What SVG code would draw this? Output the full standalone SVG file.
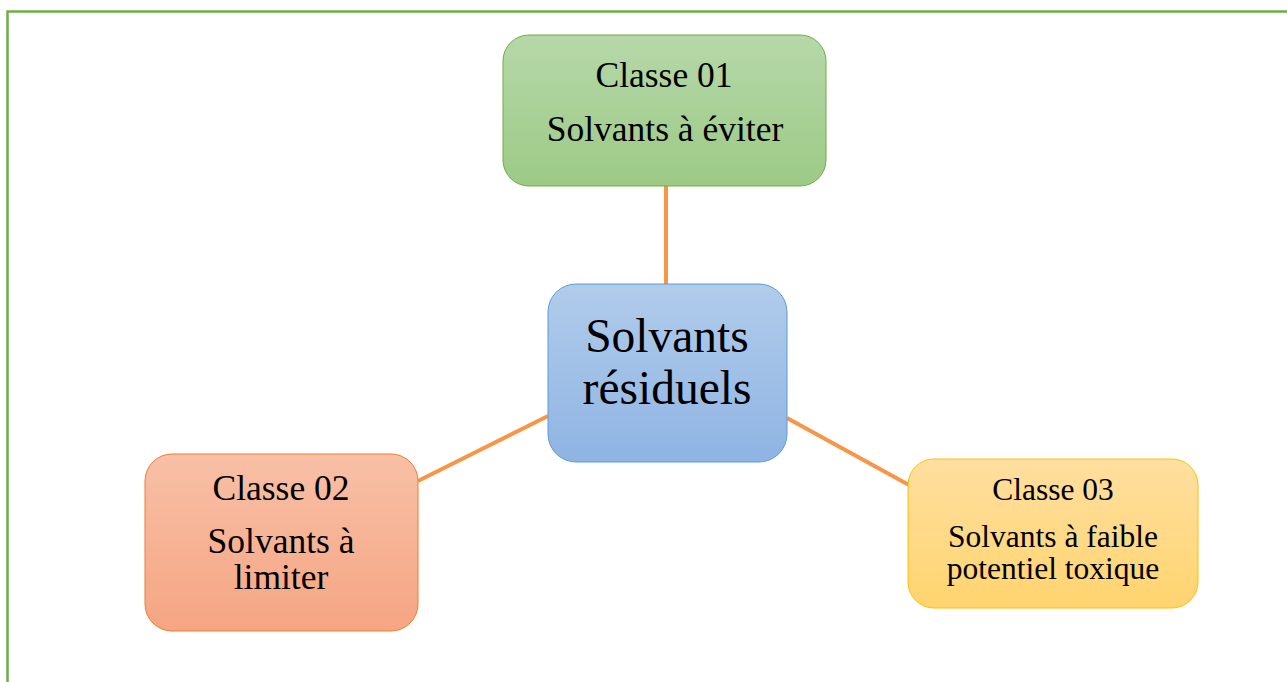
<svg xmlns="http://www.w3.org/2000/svg" width="1287" height="682" viewBox="0 0 1287 682">
<style>
  .t { font-family: "Liberation Serif", "Times New Roman", serif; fill: #000; text-anchor: middle; }
  .conn { stroke: #F79646; stroke-width: 4; fill: none; }
</style>
<defs>
  <linearGradient id="gGreen" x1="0" y1="0" x2="0" y2="1"><stop offset="0" stop-color="#B6D8A9"/><stop offset="1" stop-color="#9CCA86"/></linearGradient>
  <linearGradient id="gBlue" x1="0" y1="0" x2="0" y2="1"><stop offset="0" stop-color="#B1CCEB"/><stop offset="1" stop-color="#8FB4E3"/></linearGradient>
  <linearGradient id="gOrange" x1="0" y1="0" x2="0" y2="1"><stop offset="0" stop-color="#F8C0A7"/><stop offset="1" stop-color="#F5A582"/></linearGradient>
  <linearGradient id="gYellow" x1="0" y1="0" x2="0" y2="1"><stop offset="0" stop-color="#FFDFA0"/><stop offset="1" stop-color="#FFD46F"/></linearGradient>
</defs>
<rect x="0" y="0" width="1287" height="682" fill="#FFFFFF"/>
<rect x="7.5" y="11.5" width="1300" height="700" fill="none" stroke="#70AD47" stroke-width="2.5"/>
<g id="connectors">
  <line class="conn" x1="666" y1="186" x2="666" y2="285"/>
  <line class="conn" x1="548" y1="416" x2="418" y2="481"/>
  <line class="conn" x1="787" y1="418" x2="909" y2="485"/>
</g>
<g id="node-classe01">
  <rect x="503" y="35" width="323" height="151" rx="26" fill="url(#gGreen)" stroke="#70AD47" stroke-width="1"/>
  <text class="t" x="664" y="87" font-size="35.5">Classe 01</text>
  <text class="t" x="665" y="141" font-size="35.5">Solvants à éviter</text>
</g>
<g id="node-center">
  <rect x="548" y="284" width="239" height="178" rx="28" fill="url(#gBlue)" stroke="#5B9BD5" stroke-width="1"/>
  <text class="t" x="667" y="352" font-size="47.5">Solvants</text>
  <text class="t" x="667" y="404" font-size="47.5">résiduels</text>
</g>
<g id="node-classe02">
  <rect x="145" y="454" width="273" height="177" rx="27" fill="url(#gOrange)" stroke="#ED7D31" stroke-width="1"/>
  <text class="t" x="281" y="500" font-size="35.5">Classe 02</text>
  <text class="t" x="281" y="553" font-size="35.5">Solvants à</text>
  <text class="t" x="281" y="589" font-size="35.5">limiter</text>
</g>
<g id="node-classe03">
  <rect x="908" y="459" width="290" height="149" rx="26" fill="url(#gYellow)" stroke="#FFC000" stroke-width="1"/>
  <text class="t" x="1053" y="500" font-size="31.5">Classe 03</text>
  <text class="t" x="1053" y="547" font-size="31.5">Solvants à faible</text>
  <text class="t" x="1053" y="579" font-size="31.5">potentiel toxique</text>
</g>
</svg>
